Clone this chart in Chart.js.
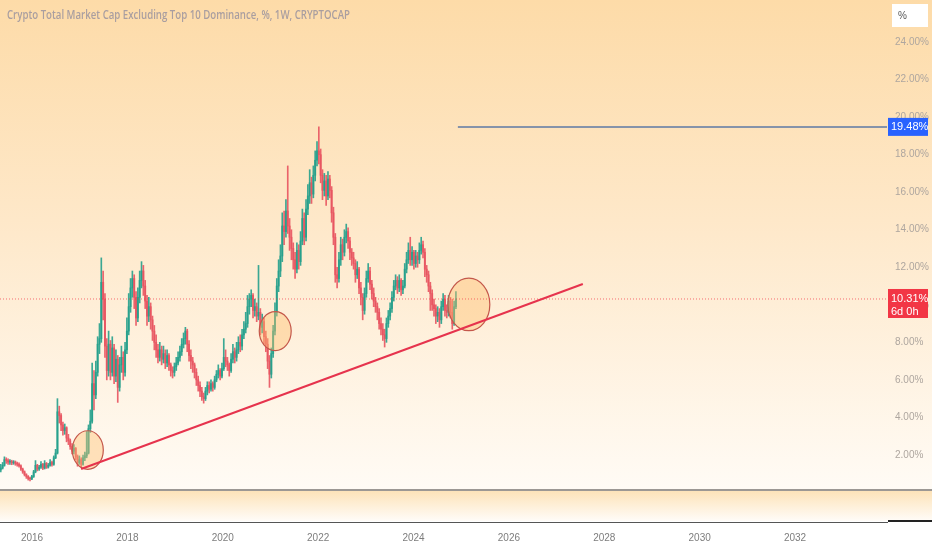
<!DOCTYPE html>
<html><head><meta charset="utf-8">
<script src="https://cdn.jsdelivr.net/npm/chart.js@4.4.1/dist/chart.umd.min.js"></script>
<style>html,body{margin:0;padding:0;background:#fff;overflow:hidden}canvas{display:block}</style>
</head><body>
<canvas id="c" width="932" height="550"></canvas>
<script>
// ---------------- data ----------------
const chartTitle = 'Crypto Total Market Cap Excluding Top 10 Dominance, %, 1W, CRYPTOCAP';
const firstCandleYear = 2015.345;      // decimal year of first candle
const daysPerCandle = 14;

const open = [
1.20,1.30,1.45,1.75,1.70,1.62,1.65,1.58,1.62,1.55,
1.50,1.42,1.25,1.10,0.95,0.85,0.75,0.72,0.85,1.10,
1.45,1.25,1.35,1.50,1.30,1.55,1.35,1.45,1.60,1.50,
1.85,2.10,4.30,4.10,3.60,3.30,3.45,2.90,2.75,2.45,
2.20,2.35,1.90,1.60,1.75,1.50,1.85,1.95,2.10,3.40,
3.80,5.80,5.20,6.40,7.90,8.20,11.20,10.30,7.80,6.50,
7.90,6.40,7.70,6.20,7.10,5.60,6.80,7.20,6.40,7.60,
8.60,9.90,10.90,11.40,10.40,9.30,10.40,11.30,11.80,11.00,
10.20,9.40,9.90,9.20,8.60,8.00,7.60,7.20,7.60,7.10,
7.40,6.90,7.30,6.80,6.50,6.40,6.70,6.90,7.20,7.50,
7.90,8.20,8.60,7.90,7.30,7.00,6.80,6.40,6.00,5.70,
5.40,5.10,5.00,5.40,5.70,5.50,5.80,5.60,6.00,6.30,
6.50,6.20,6.60,7.20,7.00,6.80,6.50,7.10,7.50,7.20,
7.60,8.00,7.80,8.40,8.70,9.00,9.90,10.30,10.50,9.70,
9.90,9.40,9.60,8.80,9.10,8.30,7.90,7.00,6.30,7.40,
8.60,9.60,11.00,11.80,12.60,14.20,13.90,15.00,14.20,13.60,
13.00,12.40,11.90,12.90,12.30,13.40,14.60,13.60,15.10,15.80,
16.50,15.90,16.90,17.70,18.20,18.00,16.90,16.10,16.60,15.80,
16.70,16.10,14.90,13.60,11.60,11.40,12.40,13.20,12.80,13.60,
13.90,13.40,12.80,12.50,12.20,11.60,11.90,10.90,10.40,9.70,
10.60,11.40,11.80,11.10,10.60,10.20,9.90,9.60,9.00,8.70,
8.40,8.20,9.00,9.40,9.80,10.40,11.00,11.30,10.90,11.30,
10.80,11.00,11.90,12.40,12.90,12.40,12.80,12.20,12.60,12.40,
12.90,13.20,12.80,11.90,11.60,11.00,10.60,10.00,9.80,9.40,
9.60,9.20,9.90,10.30,9.70,9.60,10.20,9.60,9.00,9.90];

const high = [
1.50,1.60,1.90,1.85,1.80,1.75,1.72,1.70,1.68,1.62,
1.58,1.48,1.30,1.15,1.00,0.90,0.82,0.92,1.18,1.70,
1.50,1.45,1.65,1.55,1.70,1.60,1.55,1.75,1.68,1.95,
2.30,5.00,4.60,4.20,3.75,3.65,3.50,3.10,2.85,2.60,
2.55,2.40,2.00,1.95,1.85,2.00,2.15,3.25,3.60,4.40,
6.90,6.50,7.00,8.30,9.00,12.50,11.80,10.60,8.20,8.60,
8.10,8.30,7.90,7.60,7.30,7.20,7.80,7.50,8.00,9.30,
10.60,11.40,11.80,11.60,10.70,10.90,11.80,12.30,12.10,11.30,
10.50,10.40,10.10,9.40,8.90,8.40,7.90,8.00,7.80,7.80,
7.60,7.60,7.40,6.90,6.70,6.90,7.20,7.50,7.80,8.20,
8.50,8.80,8.70,8.10,7.60,7.20,6.90,6.60,6.20,5.90,
5.60,5.30,5.60,5.90,5.90,6.00,5.90,6.20,6.50,6.80,
6.60,6.90,8.20,7.60,7.20,6.90,7.40,7.90,7.70,8.00,
8.30,8.40,8.70,9.10,9.60,10.50,10.60,10.80,10.60,10.30,
10.10,12.10,9.80,9.50,9.30,8.60,8.20,7.30,7.70,8.90,
10.10,11.40,12.40,13.20,14.90,15.00,15.60,17.40,14.60,14.00,
13.30,12.80,13.30,13.20,13.90,15.10,14.90,15.60,16.40,17.20,
16.80,17.40,18.20,18.70,19.48,18.30,17.20,17.00,16.90,17.10,
16.90,16.30,15.20,13.80,12.00,12.80,13.60,13.50,14.00,14.30,
14.10,13.60,13.00,12.80,12.40,12.30,12.00,11.20,10.60,10.90,
11.80,12.20,12.00,11.30,10.90,10.40,10.10,9.80,9.30,9.00,
8.70,9.30,9.70,10.10,10.70,11.30,11.60,11.50,11.60,11.40,
11.30,12.20,12.80,13.30,13.60,13.10,12.90,12.90,12.80,13.30,
13.60,13.40,13.00,12.10,11.80,11.20,10.80,10.30,10.00,9.90,
9.80,10.20,10.60,10.50,10.00,10.50,10.40,10.30,10.20,10.70];

const low = [
1.10,1.25,1.40,1.55,1.50,1.50,1.48,1.50,1.45,1.40,
1.35,1.18,1.02,0.88,0.75,0.66,0.62,0.68,0.80,1.05,
1.15,1.18,1.28,1.22,1.25,1.28,1.30,1.40,1.40,1.45,
1.80,2.05,3.70,3.30,3.05,3.10,2.70,2.55,2.30,2.05,
2.05,1.75,1.40,1.50,1.35,1.45,1.70,1.85,2.05,3.20,
3.70,4.40,5.00,6.20,7.40,8.00,9.20,7.20,6.00,6.20,
6.00,6.20,5.80,5.90,4.80,5.40,6.40,6.00,6.20,7.40,
8.40,9.60,10.40,9.80,8.90,9.10,10.10,10.90,10.50,9.80,
8.90,9.10,8.70,8.10,7.60,7.20,6.90,7.00,6.80,6.90,
6.60,6.70,6.50,6.20,6.10,6.20,6.50,6.80,7.00,7.30,
7.70,7.90,7.50,7.00,6.60,6.40,6.10,5.70,5.40,5.10,
4.90,4.76,4.90,5.20,5.30,5.40,5.40,5.50,5.90,6.10,
6.00,6.10,6.50,6.70,6.50,6.20,6.40,6.90,6.90,7.00,
7.40,7.50,7.60,8.20,8.50,8.80,9.50,9.90,9.30,9.40,
9.10,9.20,8.40,8.50,7.90,7.50,6.60,5.60,6.10,7.20,
8.40,9.40,10.70,11.50,12.30,13.20,13.60,13.80,12.90,12.40,
11.90,11.40,11.70,11.90,12.10,13.20,13.20,13.40,14.80,15.40,
15.40,15.70,16.60,17.40,17.50,16.50,15.60,15.80,15.30,15.60,
15.70,14.40,13.20,11.20,10.90,11.20,12.10,12.40,12.60,13.30,
13.00,12.40,12.10,11.90,11.20,11.40,10.60,10.00,9.20,9.50,
10.40,11.20,10.80,10.30,9.90,9.60,9.20,8.70,8.40,8.10,
7.75,8.00,8.80,9.20,9.60,10.20,10.80,10.60,10.70,10.50,
10.60,10.90,11.70,12.20,12.10,12.10,11.90,12.00,12.00,12.20,
12.70,12.50,11.50,11.20,10.70,9.70,9.70,9.40,9.00,9.10,
8.80,9.00,9.70,9.40,9.30,9.40,9.30,8.70,8.90,9.80];

const close = [
1.30,1.45,1.75,1.70,1.62,1.65,1.58,1.62,1.55,1.50,
1.42,1.25,1.10,0.95,0.85,0.75,0.72,0.85,1.10,1.45,
1.25,1.35,1.50,1.30,1.55,1.35,1.45,1.60,1.50,1.85,
2.10,4.30,4.10,3.60,3.30,3.45,2.90,2.75,2.45,2.20,
2.35,1.90,1.60,1.75,1.50,1.85,1.95,2.10,3.40,3.80,
5.80,5.20,6.40,7.90,8.20,11.20,10.30,7.80,6.50,7.90,
6.40,7.70,6.20,7.10,5.60,6.80,7.20,6.40,7.60,8.60,
9.90,10.90,11.40,10.40,9.30,10.40,11.30,11.80,11.00,10.20,
9.40,9.90,9.20,8.60,8.00,7.60,7.20,7.60,7.10,7.40,
6.90,7.30,6.80,6.50,6.40,6.70,6.90,7.20,7.50,7.90,
8.20,8.60,7.90,7.30,7.00,6.80,6.40,6.00,5.70,5.40,
5.10,5.00,5.40,5.70,5.50,5.80,5.60,6.00,6.30,6.50,
6.20,6.60,7.20,7.00,6.80,6.50,7.10,7.50,7.20,7.60,
8.00,7.80,8.40,8.70,9.00,9.90,10.30,10.50,9.70,9.90,
9.40,9.60,8.80,9.10,8.30,7.90,7.00,6.30,7.40,8.60,
9.60,11.00,11.80,12.60,14.20,13.90,15.00,14.20,13.60,13.00,
12.40,11.90,12.90,12.30,13.40,14.60,13.60,15.10,15.80,16.50,
15.90,16.90,17.70,18.20,18.00,16.90,16.10,16.60,15.80,16.70,
16.10,14.90,13.60,11.60,11.40,12.40,13.20,12.80,13.60,13.90,
13.40,12.80,12.50,12.20,11.60,11.90,10.90,10.40,9.70,10.60,
11.40,11.80,11.10,10.60,10.20,9.90,9.60,9.00,8.70,8.40,
8.20,9.00,9.40,9.80,10.40,11.00,11.30,10.90,11.30,10.80,
11.00,11.90,12.40,12.90,12.40,12.80,12.20,12.60,12.40,12.90,
13.20,12.80,11.90,11.60,11.00,10.60,10.00,9.80,9.40,9.60,
9.20,9.90,10.30,9.70,9.60,10.20,9.60,9.00,9.90,10.31];

const xTickYears = [2016,2018,2020,2022,2024,2026,2028,2030,2032];
const yTickValues = [2,4,6,8,10,12,14,16,18,20,22,24];
const lastPrice = 10.31;
const lastPriceTimer = '6d 0h';
const athLevel = 19.48;
const athLineFrom = 2024.93;
const trendFrom = {x: 2017.03, y: 1.25};
const trendTo = {x: 2027.55, y: 11.11};
const circleCenters = [{x: 2017.17, y: 2.26}, {x: 2021.10, y: 8.60}, {x: 2025.16, y: 10.02}];

// ---------------- layout / styles ----------------
const X_MIN = 2015.329, X_MAX = 2033.928;
const Y_MIN = -1.572, Y_MAX = 26.24;
const circleRadii = [{rx: 0.325, ry: 1.03}, {rx: 0.335, ry: 1.04}, {rx: 0.44, ry: 1.40}];
const UP = 'rgba(38,160,140,0.9)', DOWN = 'rgba(232,84,96,0.9)';

const candleX = close.map((_, i) => firstCandleYear + i * daysPerCandle / 365.25);
const isUp = close.map((c, i) => c >= open[i]);
const candleColors = isUp.map(u => u ? UP : DOWN);

const wickData = candleX.map((x, i) => ({x, y: [low[i], high[i]]}));
const bodyData = candleX.map((x, i) => ({x, y: [Math.min(open[i], close[i]), Math.max(open[i], close[i])]}));

const bgPlugin = {
  id: 'bg',
  beforeDraw(chart) {
    const {ctx, width, height} = chart;
    const paneBottom = 489;
    ctx.save();
    let g = ctx.createLinearGradient(0, 0, 0, paneBottom);
    g.addColorStop(0, '#fddba8');
    g.addColorStop(0.45, '#fee8c9');
    g.addColorStop(1, '#fffbf5');
    ctx.fillStyle = g; ctx.fillRect(0, 0, width, paneBottom);
    ctx.fillStyle = '#9c9894'; ctx.fillRect(0, paneBottom, width, 2);
    g = ctx.createLinearGradient(0, paneBottom + 2, 0, 521);
    g.addColorStop(0, '#fde3b9'); g.addColorStop(1, '#fffcf8');
    ctx.fillStyle = g; ctx.fillRect(0, paneBottom + 2, width, 521 - paneBottom - 2);
    ctx.fillStyle = '#ffffff'; ctx.fillRect(0, 521, width, height - 521);
    ctx.restore();
  }
};

const circlePlugin = {
  id: 'circles',
  afterDatasetDraw(chart, args) {
    if (args.index !== 1) return;
    const {ctx, scales: {x, y}, chartArea} = chart;
    ctx.save();
    ctx.beginPath(); ctx.rect(chartArea.left, chartArea.top, chartArea.width, chartArea.height); ctx.clip();
    circleCenters.forEach((c, i) => {
      const cx = x.getPixelForValue(c.x), cy = y.getPixelForValue(c.y);
      const rx = Math.abs(x.getPixelForValue(c.x + circleRadii[i].rx) - cx);
      const ry = Math.abs(y.getPixelForValue(c.y + circleRadii[i].ry) - cy);
      ctx.beginPath();
      ctx.ellipse(cx, cy, rx, ry, 0, 0, Math.PI * 2);
      ctx.fillStyle = 'rgba(255,190,110,0.42)';
      ctx.fill();
      ctx.lineWidth = 1.2;
      ctx.strokeStyle = '#c4574a';
      ctx.stroke();
    });
    ctx.restore();
  }
};

const overlayPlugin = {
  id: 'overlay',
  afterDraw(chart) {
    const {ctx, scales: {y}, chartArea, width} = chart;
    ctx.save();
    // title
    ctx.font = '600 12px "Open Sans", sans-serif';
    ctx.fillStyle = '#a99ea0';
    ctx.textBaseline = 'middle';
    ctx.textAlign = 'left';
    ctx.fillText(chartTitle, 7, 16, 343);
    // % box
    ctx.fillStyle = '#ffffff';
    ctx.fillRect(892, 4, 36, 23);
    ctx.fillStyle = '#555555';
    ctx.font = '10px "Liberation Sans", sans-serif';
    ctx.fillText('%', 898, 16);
    // ATH label
    const ay = y.getPixelForValue(athLevel);
    ctx.fillStyle = '#2962ff';
    ctx.fillRect(chartArea.right + 1, ay - 9, 40, 18);
    ctx.fillStyle = '#ffffff';
    ctx.font = '11px "Liberation Sans", sans-serif';
    ctx.fillText(athLevel.toFixed(2) + '%', chartArea.right + 4, ay + 0.5);
    // last price label
    const py = y.getPixelForValue(lastPrice);
    ctx.fillStyle = '#f23645';
    ctx.fillRect(chartArea.right + 1, py - 10, 40, 29);
    ctx.fillStyle = '#ffffff';
    ctx.fillText(lastPrice.toFixed(2) + '%', chartArea.right + 4, py);
    ctx.fillText(lastPriceTimer, chartArea.right + 4, py + 13);
    // bottom right axis line
    ctx.fillStyle = '#222222';
    ctx.fillRect(chartArea.right + 1, chartArea.bottom - 2, width - chartArea.right, 2);
    ctx.restore();
  }
};

new Chart(document.getElementById('c'), {
  type: 'bar',
  data: {
    datasets: [
      {label: 'wick', data: wickData, backgroundColor: candleColors, barThickness: 1, grouped: false, order: 4},
      {label: 'body', data: bodyData, backgroundColor: candleColors, barThickness: 1.3, minBarLength: 1, grouped: false, order: 3},
      {type: 'line', label: 'trend', data: [trendFrom, trendTo], borderColor: '#e6334d', borderWidth: 2, pointRadius: 0, fill: false, tension: 0, order: 1},
      {type: 'line', label: 'ath', data: [{x: athLineFrom, y: athLevel}, {x: X_MAX, y: athLevel}], borderColor: '#8593aa', borderWidth: 2, pointRadius: 0, fill: false, order: 2},
      {type: 'line', label: 'last', data: [{x: X_MIN, y: lastPrice}, {x: X_MAX, y: lastPrice}], borderColor: 'rgba(242,54,69,0.7)', borderWidth: 1, borderDash: [1, 2], pointRadius: 0, fill: false, order: 2}
    ]
  },
  options: {
    responsive: false,
    animation: false,
    events: [],
    layout: {padding: 0},
    plugins: {legend: {display: false}, tooltip: {enabled: false}, title: {display: false}},
    scales: {
      x: {
        type: 'linear', position: 'bottom', min: X_MIN, max: X_MAX, offset: false,
        grid: {display: false, drawTicks: false},
        border: {display: true, color: '#555555', width: 1},
        afterBuildTicks: s => { s.ticks = xTickYears.map(v => ({value: v})); },
        afterFit: s => { s.height = 28; s.paddingLeft = 0; s.paddingRight = 0; },
        ticks: {autoSkip: false, maxRotation: 0, padding: 10, color: '#7d7d7d',
          font: {family: '"Liberation Sans", sans-serif', size: 10}, callback: v => String(v)}
      },
      y: {
        type: 'linear', position: 'right', min: Y_MIN, max: Y_MAX, beginAtZero: false,
        grid: {display: false, drawTicks: false},
        border: {display: false},
        afterBuildTicks: s => { s.ticks = yTickValues.map(v => ({value: v})); },
        afterFit: s => { s.width = 45; s.paddingTop = 0; s.paddingBottom = 0; },
        ticks: {padding: 8, color: '#aea69f',
          font: {family: '"Liberation Sans", sans-serif', size: 10}, callback: v => v.toFixed(2) + '%'}
      }
    }
  },
  plugins: [bgPlugin, circlePlugin, overlayPlugin]
});
</script>
</body></html>
